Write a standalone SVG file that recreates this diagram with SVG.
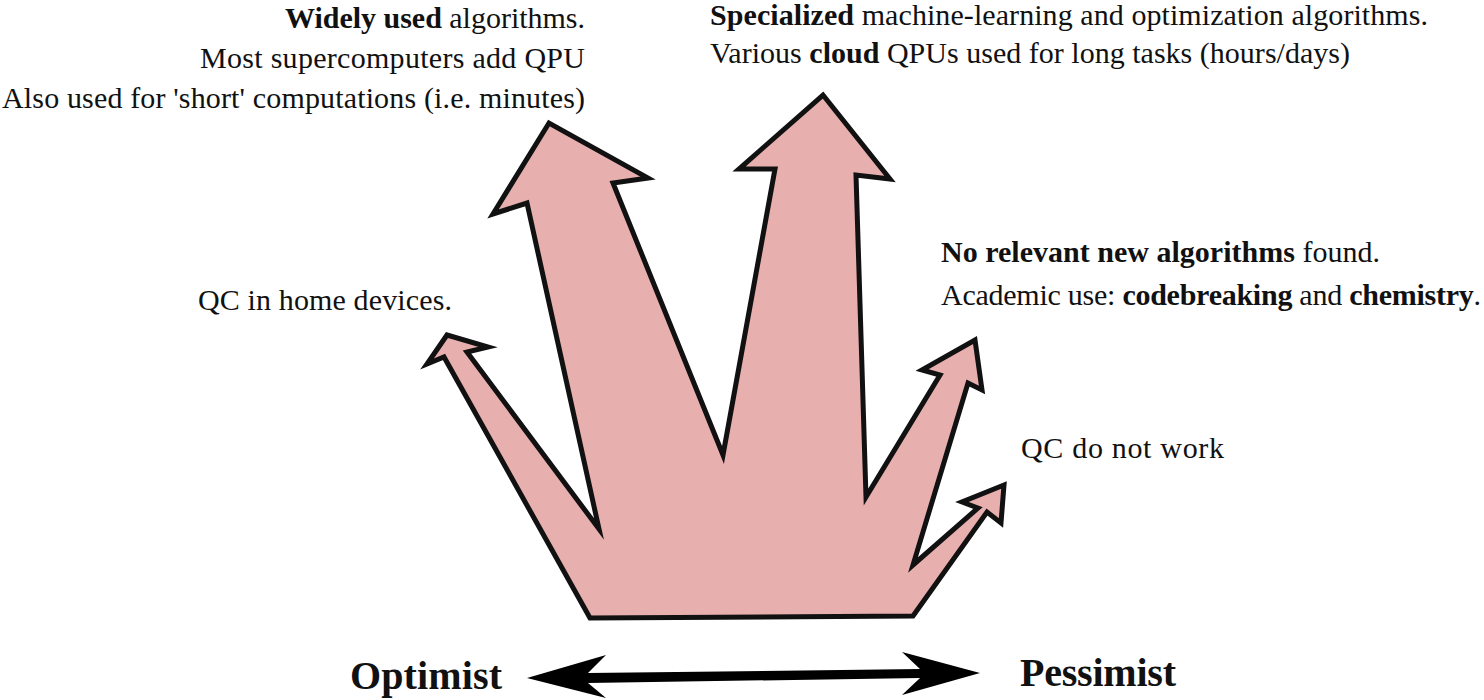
<svg xmlns="http://www.w3.org/2000/svg" width="1484" height="700" viewBox="0 0 1484 700">
  <style>
    .shape { fill: #e8afaf; stroke: #111; stroke-width: 5; stroke-linejoin: miter; stroke-miterlimit: 10; }
    .dbl { fill: #000; stroke: none; }
  </style>
  <rect width="1484" height="700" fill="#fff"/>
  <g id="futures-shape">
    <polygon class="shape" points="590,618 444,357 427,364 447,335 488,347 467,352 599,529 527,203 493,214 549,123 648,178 613,183 723,455 775,169 739,169 823,95 890,179 856,175 866,497 940,375 922,370 975,340 982,390 968,383 913,565 978,508 962,502 1004,485 1001,523 987,512 913,616"/>
  </g>
  <g font-family="Liberation Serif" font-size="30" fill="#111">
    <g id="label-widely">
      <text x="585" y="28" text-anchor="end" textLength="300"><tspan font-weight="bold">Widely used</tspan> algorithms.</text>
      <text x="585" y="68" text-anchor="end" textLength="385">Most supercomputers add QPU</text>
      <text x="585" y="108" text-anchor="end" textLength="583">Also used for 'short' computations (i.e. minutes)</text>
    </g>
    <g id="label-specialized">
      <text x="710" y="25" textLength="718"><tspan font-weight="bold">Specialized</tspan> machine-learning and optimization algorithms.</text>
      <text x="710" y="63" textLength="640">Various <tspan font-weight="bold">cloud</tspan> QPUs used for long tasks (hours/days)</text>
    </g>
    <g id="label-home">
      <text x="198" y="310" textLength="254">QC in home devices.</text>
    </g>
    <g id="label-norelevant">
      <text x="941" y="262" textLength="439"><tspan font-weight="bold">No relevant new algorithms</tspan> found.</text>
      <text x="941" y="305" textLength="540">Academic use: <tspan font-weight="bold">codebreaking</tspan> and <tspan font-weight="bold">chemistry</tspan>.</text>
    </g>
    <g id="label-notwork">
      <text x="1021" y="458" textLength="203">QC do not work</text>
    </g>
  </g>
  <g id="connectors">
    <polygon class="dbl" points="527,678 606,655 588,673 920,669 902,652 980,673 902,695 920,678 588,683 606,698"/>
  </g>
  <g font-family="Liberation Serif" font-size="40" font-weight="bold" fill="#111">
    <g id="label-optimist">
      <text x="350" y="689" textLength="152">Optimist</text>
    </g>
    <g id="label-pessimist">
      <text x="1020" y="686" textLength="156">Pessimist</text>
    </g>
  </g>
</svg>
